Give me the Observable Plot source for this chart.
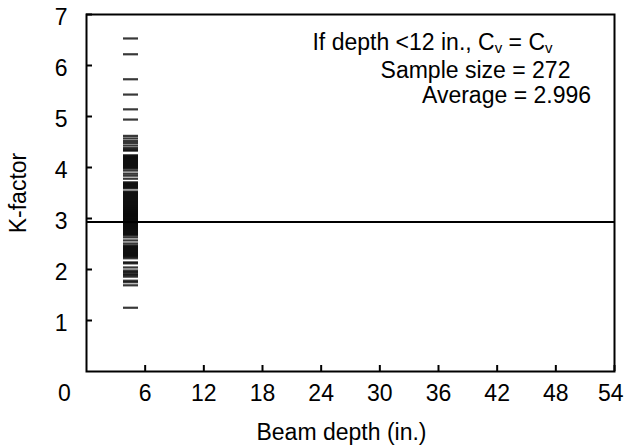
<!DOCTYPE html>
<html>
<head>
<meta charset="utf-8">
<script src="https://cdn.jsdelivr.net/npm/d3@7"></script>
<script src="https://cdn.jsdelivr.net/npm/@observablehq/plot@0.6"></script>
<style>
  html, body { margin: 0; padding: 0; background: white; }
</style>
</head>
<body>
<div id="chart"></div>
<script>
// ---- data ----
const beamDepth = 4.5; // all specimens plotted in one strip near 4.5 in.
const kFactor = [
  6.53, 6.22, 5.73, 5.43, 5.14, 4.94,
  4.62, 4.57, 4.52, 4.48,
  4.43, 4.38, 4.35, 4.33,
  4.24, 4.22, 4.20, 4.18, 4.16, 4.14, 4.12, 4.10, 4.08, 4.06, 4.04, 4.02, 4.00, 3.98,
  3.94, 3.88, 3.84, 3.78,
  3.71, 3.69, 3.67, 3.65, 3.63, 3.61, 3.59,
  3.53, 3.51, 3.49, 3.47, 3.45, 3.43, 3.41, 3.39, 3.37, 3.35, 3.33, 3.31, 3.29, 3.27,
  3.25, 3.23, 3.21, 3.19, 3.17, 3.15, 3.13, 3.11, 3.09, 3.07, 3.05, 3.03, 3.01, 2.99,
  2.97, 2.95, 2.93, 2.91, 2.89, 2.87, 2.85, 2.83, 2.81, 2.79, 2.77, 2.75, 2.73, 2.71,
  2.69, 2.67,
  2.63, 2.57, 2.51,
  2.47, 2.45, 2.43, 2.41, 2.39, 2.37, 2.35, 2.33, 2.31, 2.29, 2.27, 2.25,
  2.22, 2.14, 2.12, 2.04,
  1.98, 1.95, 1.92, 1.89, 1.86,
  1.78, 1.75, 1.69,
  1.25
];
const averageLine = [2.93];
const xTicks = [6, 12, 18, 24, 30, 36, 42, 48, 54];
const yTicks = [1, 2, 3, 4, 5, 6, 7];
const originLabel = [{x: 0, y: 0, label: "0"}];
const lastXLabel = [{x: 54, y: 0, label: "54"}];
const xLabel = "Beam depth (in.)";
const yLabel = "K-factor";
const annoLines = ["If depth <12 in., C_v = C_v", "Sample size = 272", "Average = 2.996"];

// ---- build ----
const points = kFactor.map(k => ({depth: beamDepth, k}));
const hline = {
  draw(ctx, size) {
    const w = Math.sqrt(size / Math.PI);
    ctx.moveTo(-w, 0);
    ctx.lineTo(w, 0);
  }
};
const annoDx = [346, 389, 420];
const annoDy = [28, 56.6, 81.6];
const FS = 23;
const font = "'Liberation Sans', Arial, sans-serif";

const chart = Plot.plot({
  width: 624,
  height: 448,
  marginLeft: 86,
  marginRight: 10,
  marginTop: 14,
  marginBottom: 77,
  x: {domain: [0, 54]},
  y: {domain: [0, 7]},
  style: {fontFamily: font, fontSize: FS + "px", color: "black", background: "white"},
  marks: [
    Plot.dot(points, {x: "depth", y: "k", symbol: hline, r: 7.5, fill: "none", stroke: "black", strokeWidth: 2.2, strokeOpacity: 0.78}),
    Plot.ruleY(averageLine, {stroke: "black", strokeWidth: 2}),
    Plot.frame({stroke: "black", strokeWidth: 2}),
    Plot.ruleX(xTicks, {x: d => d, insetTop: 351, stroke: "black", strokeWidth: 2}),
    Plot.ruleY(yTicks, {y: d => d, insetRight: 522, stroke: "black", strokeWidth: 2}),
    Plot.axisX({ticks: xTicks.slice(0, -1), tickSize: 0, tickPadding: 13, label: null, fontSize: FS, tickFormat: d3.format("d")}),
    Plot.axisY({ticks: yTicks, tickSize: 0, tickPadding: 19, label: null, fontSize: FS, dy: 3, tickFormat: d3.format("d")}),
    Plot.text(originLabel, {x: "x", y: "y", text: "label", dx: -22, dy: 22, fontSize: FS, lineAnchor: "middle"}),
    Plot.text(lastXLabel, {x: "x", y: "y", text: "label", dx: 9, dy: 22, fontSize: FS, lineAnchor: "middle", textAnchor: "end"}),
    Plot.text([xLabel], {frameAnchor: "bottom", text: d => d, dx: -9, dy: 61.6, fontSize: FS, lineAnchor: "middle", textAnchor: "middle"}),
    Plot.text([yLabel], {frameAnchor: "left", text: d => d, rotate: -90, dx: -67.5, fontSize: FS, lineAnchor: "middle", textAnchor: "middle"}),
    ...annoLines.map((t, i) => Plot.text([t], {frameAnchor: "top-left", text: d => d, dx: annoDx[i], dy: annoDy[i], textAnchor: "middle", lineAnchor: "middle", fontSize: FS}))
  ]
});

// subscripts: turn "C_v" into C with a lowered small v
chart.querySelectorAll("text").forEach(el => {
  const s = el.textContent;
  if (!s.includes("_v")) return;
  const parts = s.split("_v");
  el.textContent = "";
  const ns = "http://www.w3.org/2000/svg";
  parts.forEach((p, i) => {
    const t = document.createElementNS(ns, "tspan");
    t.textContent = p;
    if (i > 0) t.setAttribute("dy", "-3");
    el.appendChild(t);
    if (i < parts.length - 1) {
      const sub = document.createElementNS(ns, "tspan");
      sub.textContent = "v";
      sub.setAttribute("dy", "3");
      sub.setAttribute("font-size", "15");
      el.appendChild(sub);
    }
  });
});

document.getElementById("chart").appendChild(chart);
</script>
</body>
</html>
